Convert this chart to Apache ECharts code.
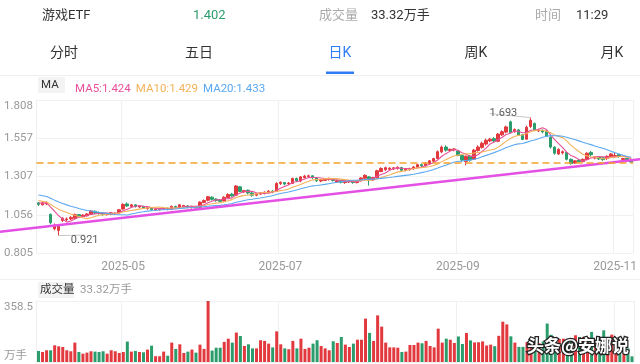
<!DOCTYPE html>
<html><head><meta charset="utf-8">
<script src="https://cdn.jsdelivr.net/npm/echarts@6/dist/echarts.min.js"></script>
<style>html,body{margin:0;padding:0;background:#fff;}#c{width:640px;height:364px;}</style>
</head><body><div id="c"></div>
<script>
// ---------------- data ----------------
const dates = [
'2025-04-01','2025-04-02','2025-04-03','2025-04-07','2025-04-08','2025-04-09','2025-04-10','2025-04-11','2025-04-14','2025-04-15','2025-04-16','2025-04-17','2025-04-18','2025-04-21','2025-04-22','2025-04-23','2025-04-24','2025-04-25','2025-04-28','2025-04-29','2025-04-30',
'2025-05-06','2025-05-07','2025-05-08','2025-05-09','2025-05-12','2025-05-13','2025-05-14','2025-05-15','2025-05-16','2025-05-19','2025-05-20','2025-05-21','2025-05-22','2025-05-23','2025-05-26','2025-05-27','2025-05-28','2025-05-29','2025-05-30',
'2025-06-03','2025-06-04','2025-06-05','2025-06-06','2025-06-09','2025-06-10','2025-06-11','2025-06-12','2025-06-13','2025-06-16','2025-06-17','2025-06-18','2025-06-19','2025-06-20','2025-06-23','2025-06-24','2025-06-25','2025-06-26','2025-06-27','2025-06-30',
'2025-07-01','2025-07-02','2025-07-03','2025-07-04','2025-07-07','2025-07-08','2025-07-09','2025-07-10','2025-07-11','2025-07-14','2025-07-15','2025-07-16','2025-07-17','2025-07-18','2025-07-21','2025-07-22','2025-07-23','2025-07-24','2025-07-25','2025-07-28','2025-07-29','2025-07-30','2025-07-31',
'2025-08-01','2025-08-04','2025-08-05','2025-08-06','2025-08-07','2025-08-08','2025-08-11','2025-08-12','2025-08-13','2025-08-14','2025-08-15','2025-08-18','2025-08-19','2025-08-20','2025-08-21','2025-08-22','2025-08-25','2025-08-26','2025-08-27','2025-08-28','2025-08-29',
'2025-09-01','2025-09-02','2025-09-03','2025-09-04','2025-09-05','2025-09-08','2025-09-09','2025-09-10','2025-09-11','2025-09-12','2025-09-15','2025-09-16','2025-09-17','2025-09-18','2025-09-19','2025-09-22','2025-09-23','2025-09-24','2025-09-25','2025-09-26','2025-09-29','2025-09-30',
'2025-10-09','2025-10-10','2025-10-13','2025-10-14','2025-10-15','2025-10-16','2025-10-17','2025-10-20','2025-10-21','2025-10-22','2025-10-23','2025-10-24','2025-10-27','2025-10-28','2025-10-29','2025-10-30','2025-10-31',
'2025-11-03','2025-11-04','2025-11-05','2025-11-06','2025-11-07'
];
const opens = [
1.135,1.122,1.128,1.060,0.965,0.955,1.020,1.025,1.030,1.035,
1.058,1.045,1.050,1.060,1.080,1.072,1.068,1.058,1.060,1.062,
1.070,1.095,1.128,1.112,1.122,1.108,1.112,1.098,1.104,1.088,
1.090,1.094,1.100,1.094,1.112,1.104,1.112,1.115,1.104,1.110,
1.104,1.138,1.152,1.172,1.160,1.152,1.148,1.170,1.192,1.185,
1.240,1.208,1.218,1.200,1.185,1.192,1.198,1.202,1.212,1.210,
1.262,1.268,1.260,1.262,1.295,1.278,1.300,1.308,1.312,1.300,
1.278,1.282,1.288,1.292,1.272,1.280,1.268,1.272,1.278,1.268,
1.280,1.296,1.305,1.285,1.300,1.340,1.352,1.355,1.356,1.360,
1.366,1.348,1.352,1.358,1.368,1.385,1.378,1.392,1.408,1.425,
1.468,1.500,1.478,1.482,1.475,1.445,1.405,1.440,1.420,1.478,
1.498,1.520,1.540,1.555,1.538,1.580,1.598,1.665,1.600,1.612,
1.580,1.552,1.635,1.655,1.605,1.610,1.605,1.565,1.500,1.455,
1.462,1.465,1.420,1.395,1.415,1.405,1.418,1.465,1.428,1.435,
1.430,1.425,1.438,1.440,1.450,1.418,1.425,1.412
];
const closes = [
1.125,1.135,1.138,1.005,0.990,0.985,1.035,1.030,1.040,1.058,
1.045,1.055,1.062,1.082,1.070,1.065,1.060,1.065,1.070,1.068,
1.090,1.125,1.115,1.122,1.110,1.114,1.100,1.105,1.090,1.094,
1.096,1.100,1.092,1.112,1.105,1.122,1.118,1.105,1.112,1.102,
1.140,1.150,1.175,1.158,1.150,1.145,1.172,1.190,1.180,1.245,
1.210,1.215,1.200,1.185,1.195,1.200,1.205,1.212,1.205,1.262,
1.270,1.258,1.265,1.295,1.280,1.305,1.310,1.312,1.300,1.280,
1.285,1.290,1.295,1.282,1.280,1.270,1.275,1.278,1.268,1.280,
1.298,1.315,1.285,1.300,1.345,1.360,1.365,1.362,1.364,1.368,
1.348,1.355,1.360,1.370,1.385,1.378,1.395,1.410,1.425,1.470,
1.500,1.480,1.485,1.488,1.445,1.415,1.440,1.415,1.480,1.500,
1.525,1.545,1.552,1.540,1.585,1.600,1.632,1.595,1.615,1.578,
1.550,1.630,1.675,1.615,1.612,1.600,1.570,1.500,1.460,1.485,
1.470,1.420,1.392,1.410,1.405,1.420,1.460,1.450,1.435,1.422,
1.418,1.440,1.455,1.445,1.438,1.425,1.410,1.402
];
const lows = [
1.115,1.118,1.120,0.995,0.955,0.921,1.010,1.015,1.022,1.030,
1.040,1.040,1.045,1.055,1.062,1.058,1.052,1.052,1.055,1.058,
1.065,1.090,1.108,1.105,1.105,1.100,1.095,1.090,1.085,1.082,
1.085,1.088,1.086,1.090,1.100,1.100,1.105,1.100,1.098,1.096,
1.100,1.132,1.145,1.150,1.142,1.138,1.145,1.165,1.175,1.182,
1.205,1.200,1.190,1.175,1.178,1.188,1.190,1.195,1.198,1.205,
1.252,1.250,1.252,1.258,1.272,1.270,1.295,1.300,1.292,1.272,
1.270,1.278,1.280,1.275,1.265,1.262,1.260,1.265,1.260,1.262,
1.275,1.290,1.248,1.278,1.295,1.335,1.345,1.348,1.350,1.352,
1.342,1.342,1.346,1.352,1.362,1.370,1.372,1.388,1.400,1.420,
1.460,1.470,1.468,1.472,1.440,1.405,1.380,1.405,1.415,1.470,
1.490,1.510,1.532,1.530,1.532,1.572,1.590,1.590,1.595,1.572,
1.545,1.548,1.625,1.605,1.598,1.590,1.565,1.490,1.450,1.448,
1.452,1.412,1.385,1.390,1.398,1.400,1.415,1.440,1.420,1.415,
1.410,1.415,1.430,1.432,1.430,1.405,1.405,1.398
];
const highs = [
1.140,1.140,1.142,1.065,1.000,0.995,1.040,1.040,1.048,1.065,
1.062,1.060,1.068,1.088,1.085,1.078,1.072,1.070,1.074,1.072,
1.095,1.132,1.138,1.128,1.126,1.120,1.116,1.110,1.108,1.098,
1.100,1.104,1.104,1.118,1.116,1.128,1.122,1.120,1.116,1.114,
1.145,1.158,1.180,1.178,1.165,1.160,1.178,1.198,1.200,1.252,
1.245,1.220,1.222,1.205,1.200,1.205,1.210,1.218,1.218,1.270,
1.275,1.272,1.272,1.300,1.300,1.310,1.318,1.320,1.315,1.302,
1.290,1.295,1.300,1.298,1.285,1.284,1.280,1.284,1.282,1.285,
1.302,1.322,1.310,1.305,1.352,1.368,1.372,1.368,1.370,1.374,
1.370,1.360,1.365,1.375,1.390,1.392,1.400,1.415,1.430,1.478,
1.510,1.512,1.490,1.492,1.480,1.450,1.445,1.448,1.488,1.512,
1.535,1.555,1.560,1.565,1.592,1.610,1.640,1.673,1.622,1.618,
1.585,1.640,1.693,1.660,1.620,1.615,1.610,1.570,1.505,1.492,
1.478,1.470,1.425,1.415,1.420,1.425,1.466,1.475,1.440,1.440,
1.435,1.445,1.460,1.468,1.455,1.430,1.428,1.415
];
const volumes = [
65,59,69,69,98,92,88,69,63,114,
59,49,55,63,61,59,63,49,69,63,
53,59,120,61,65,59,57,73,96,34,
34,61,37,114,77,104,53,61,73,55,
102,77,358.5,67,84,84,118,137,114,173,
153,94,104,80,80,128,124,108,86,180,
104,80,75,124,80,137,77,84,108,128,
94,80,69,122,112,147,102,88,108,131,
131,255,171,124,274,208,114,86,86,84,
59,61,100,100,114,110,124,94,86,196,
114,137,131,112,150,106,171,127,115,116,
121,97,102,93,154,237,221,151,114,89,
89,117,118,130,110,120,226,160,104,135,
137,128,128,157,147,147,147,177,128,147,
186,108,161,128,108,88,80,33.32
];
// closes of the 19 sessions before the first visible day (only feed the moving averages)
const priorCloses = [1.22,1.23,1.24,1.24,1.23,1.22,1.22,1.21,1.21,1.20,1.19,1.18,1.16,1.15,1.15,1.14,1.13,1.14,1.135];
const maPeriods = [5, 10, 20];
const maNames = ['MA5', 'MA10', 'MA20'];
const yTickLabels = ['0.805', '1.056', '1.307', '1.557', '1.808'];
const volTickLabels = ['万手', '358.5'];
const monthLabelDates = ['2025-05-06', '2025-07-01', '2025-09-01', '2025-11-03'];
const trendAnchors = [['2025-04-01', 0.975], ['2025-11-07', 1.414]];
const tabNames = ['分时', '五日', '日K', '周K', '月K'];
const securityName = '游戏ETF';
const timeText = '11:29';
const watermarkText = '头条@安娜说';

// ---------------- style / layout ----------------
const FONT = 'Roboto, "Noto Sans CJK SC", sans-serif';
const UP = '#e2393e', DOWN = '#2b9d6c';
const MA_COLORS = ['#e8509b', '#f4b25a', '#5aa8f0'];
const GL = 36.5, GR = 6, PT = 100, PH = 153.3, VT = 301, VH = 61, W = 640;
const AX = '#999';

// ---------------- derived ----------------
const n = dates.length;
const candleData = dates.map((d, i) => [opens[i], closes[i], lows[i], highs[i]]);
const allCloses = priorCloses.concat(closes);
function movingAvg(p) {
  return closes.map((c, i) => {
    const j = i + priorCloses.length;
    if (j + 1 < p) return '-';
    let s = 0;
    for (let k = j - p + 1; k <= j; k++) s += allCloses[k];
    return +(s / p).toFixed(4);
  });
}
const maData = maPeriods.map(movingAvg);
const maLast = {};
maNames.forEach((nm, k) => { maLast[nm] = maData[k][n - 1].toFixed(3); });
const lastClose = closes[n - 1];
const lastVol = volumes[n - 1];
const isUp = i => closes[i] >= opens[i];

const yTicks = yTickLabels.map(Number);
const yMin = yTicks[0], yMax = yTicks[yTicks.length - 1];
const volMax = Math.max(...volumes);
const volTicks = [0, volMax];

const monthSet = new Set(monthLabelDates);

let hiIdx = 0, loIdx = 0;
highs.forEach((h, i) => { if (h > highs[hiIdx]) hiIdx = i; });
lows.forEach((l, i) => { if (l < lows[loIdx]) loIdx = i; });

// trend line: extended across the full picture width
const bw = (W - GL - GR) / n;
const xLeft = -GL / bw - 0.5, xRight = (W - GL) / bw - 0.5;
const ti0 = dates.indexOf(trendAnchors[0][0]), ti1 = dates.indexOf(trendAnchors[1][0]);
const slope = (trendAnchors[1][1] - trendAnchors[0][1]) / (ti1 - ti0);
const trendAt = x => trendAnchors[0][1] + slope * (x - ti0);
const trendData = [[xLeft, trendAt(xLeft)], [xRight, trendAt(xRight)]];

const chart = echarts.init(document.getElementById('c'), null, { renderer: 'canvas', width: 640, height: 364 });

const tabCenters = [64, 199, 340, 476, 612];
const graphics = [
  { type: 'text', x: 42, y: 16, style: { text: securityName, fill: '#333', font: `13px ${FONT}`, verticalAlign: 'middle' } },
  { type: 'text', x: 193, y: 16, style: { text: lastClose.toFixed(3), fill: lastClose < closes[n - 2] ? DOWN : UP, font: `13px ${FONT}`, verticalAlign: 'middle' } },
  { type: 'text', x: 319, y: 16, style: { text: '成交量', fill: '#aaa', font: `13px ${FONT}`, verticalAlign: 'middle' } },
  { type: 'text', x: 371, y: 16, style: { text: lastVol + '万手', fill: '#333', font: `13px ${FONT}`, verticalAlign: 'middle' } },
  { type: 'text', x: 535, y: 16, style: { text: '时间', fill: '#aaa', font: `13px ${FONT}`, verticalAlign: 'middle' } },
  { type: 'text', x: 576, y: 16, style: { text: timeText, fill: '#333', font: `13px ${FONT}`, verticalAlign: 'middle' } },
  { type: 'rect', shape: { x: 0, y: 75, width: 640, height: 1 }, style: { fill: '#eeeeee' } },
  { type: 'rect', shape: { x: tabCenters[2] - 14, y: 71.5, width: 28, height: 2.5 }, style: { fill: '#2f7cf6' } },
  { type: 'rect', shape: { x: 0, y: 279, width: 640, height: 1 }, style: { fill: '#f2f2f2' } },
  { type: 'rect', shape: { x: 38, y: 77, width: 27, height: 16 }, style: { fill: '#f3f3f3' } },
  { type: 'text', x: 41, y: 85, style: { text: 'MA', fill: '#333', font: `11.5px ${FONT}`, verticalAlign: 'middle' } },
  { type: 'rect', shape: { x: 38, y: 282, width: 36, height: 16 }, style: { fill: '#f3f3f3' } },
  { type: 'text', x: 40, y: 290, style: { text: '成交量', fill: '#333', font: `11.5px ${FONT}`, verticalAlign: 'middle' } },
  { type: 'text', x: 80, y: 290, style: { text: lastVol + '万手', fill: '#999', font: `11.5px ${FONT}`, verticalAlign: 'middle' } },
  { type: 'text', x: 527, y: 346, z: 100, style: { text: watermarkText, fill: '#fff', stroke: '#222', lineWidth: 2.5, font: `bold 17px "Noto Sans CJK SC", sans-serif`, verticalAlign: 'middle' } }
];
tabNames.forEach((t, k) => {
  graphics.push({ type: 'text', x: tabCenters[k], y: 53, style: { text: t, fill: k === 2 ? '#2f7cf6' : '#333', font: `14px ${FONT}`, align: 'center', verticalAlign: 'middle' } });
});

const monthInterval = (idx, val) => monthSet.has(val);

const option = {
  animation: false,
  backgroundColor: '#fff',
  textStyle: { fontFamily: FONT },
  legend: {
    left: 65, top: 78, itemWidth: 0, itemHeight: 0, itemGap: 0, selectedMode: false,
    data: maNames.map((nm, k) => ({ name: nm, icon: 'rect', textStyle: { color: MA_COLORS[k] } })),
    formatter: nm => nm + ':' + maLast[nm],
    textStyle: { fontSize: 11.5, fontFamily: FONT }
  },
  grid: [
    { left: GL, right: GR, top: PT, height: PH },
    { left: GL, right: GR, top: VT, height: VH },
    { left: 0, right: 0, top: PT, height: PH }
  ],
  xAxis: [
    { type: 'category', gridIndex: 0, data: dates, boundaryGap: true,
      axisLine: { show: false }, axisTick: { show: false },
      axisLabel: { interval: monthInterval, formatter: v => v.slice(0, 7), color: AX, fontSize: 12, margin: 8 },
      splitLine: { show: true, interval: monthInterval, lineStyle: { color: '#f0f0f0', width: 1 } } },
    { type: 'category', gridIndex: 1, data: dates, boundaryGap: true,
      axisLine: { show: false }, axisTick: { show: false }, axisLabel: { show: false },
      splitLine: { show: true, interval: monthInterval, lineStyle: { color: '#f0f0f0', width: 1 } } },
    { type: 'value', gridIndex: 2, min: xLeft, max: xRight, show: false }
  ],
  yAxis: [
    { type: 'value', gridIndex: 0, min: yMin, max: yMax,
      axisLine: { show: true, lineStyle: { color: '#eeeeee' } },
      axisTick: { show: false, customValues: yTicks },
      axisLabel: { customValues: yTicks, showMaxLabel: true, showMinLabel: true, align: 'left', margin: GL - 4, color: AX, fontSize: 11.5,
        formatter: v => {
          let k = 0; yTicks.forEach((t, j) => { if (Math.abs(t - v) < Math.abs(yTicks[k] - v)) k = j; });
          return k === yTicks.length - 1 ? `{top|${yTickLabels[k]}}` : yTickLabels[k];
        },
        rich: { top: { padding: [13, 0, 0, 0], color: AX, fontSize: 11.5, fontFamily: FONT } } },
      splitLine: { show: true, lineStyle: { color: '#f2f2f2' } } },
    { type: 'value', gridIndex: 1, min: 0, max: volMax,
      axisLine: { show: true, lineStyle: { color: '#eeeeee' } },
      axisTick: { show: false, customValues: volTicks },
      axisLabel: { customValues: volTicks, align: 'left', margin: GL - 4, color: AX, fontSize: 11.5,
        formatter: v => v === 0 ? `{bot|${volTickLabels[0]}}` : `{top|${volTickLabels[1]}}`,
        rich: { top: { padding: [12, 0, 0, 0], color: AX, fontSize: 11.5, fontFamily: FONT },
                bot: { padding: [0, 0, 12, 0], color: AX, fontSize: 11.5, fontFamily: FONT } } },
      splitLine: { show: true, lineStyle: { color: '#f2f2f2' } } },
    { type: 'value', gridIndex: 2, min: yMin, max: yMax, show: false }
  ],
  series: [
    { name: 'K', type: 'candlestick', xAxisIndex: 0, yAxisIndex: 0, data: candleData, barWidth: 3,
      itemStyle: { color: UP, color0: DOWN, borderColor: UP, borderColor0: DOWN, borderWidth: 1 },
      markLine: { silent: true, symbol: ['none', 'none'], label: { show: false },
        lineStyle: { color: '#f4a12c', type: [7, 4], width: 1.6 },
        data: [{ yAxis: lastClose }] } },
    ...maNames.map((nm, k) => ({ name: nm, type: 'line', xAxisIndex: 0, yAxisIndex: 0, data: maData[k],
      showSymbol: false, symbol: 'none', lineStyle: { color: MA_COLORS[k], width: 1.1 }, itemStyle: { color: MA_COLORS[k] }, z: 3 })),
    { name: 'trend', type: 'line', xAxisIndex: 2, yAxisIndex: 2, data: trendData, showSymbol: false, symbol: 'none',
      lineStyle: { color: '#e44fe4', width: 2.5 }, z: 4, silent: true },
    { name: 'extremes', type: 'scatter', xAxisIndex: 0, yAxisIndex: 0, symbolSize: 0, z: 6, silent: true,
      data: [[dates[hiIdx], highs[hiIdx]], [dates[loIdx], lows[loIdx]]],
      label: { show: true, position: 'inside', formatter: p => p.value[1].toFixed(3), color: '#333', fontSize: 11, fontFamily: FONT },
      labelLayout: p => p.dataIndex === 0 ? { dx: -27, dy: -4 } : { dx: 26, dy: 5 },
      labelLine: { show: true, lineStyle: { color: '#c8c8c8', width: 1 } } },
    { name: 'vol', type: 'bar', xAxisIndex: 1, yAxisIndex: 1, barWidth: 3,
      data: volumes.map((v, i) => ({ value: v, itemStyle: { color: isUp(i) ? UP : DOWN } })) }
  ],
  graphic: graphics
};
chart.setOption(option);
</script>
</body></html>
